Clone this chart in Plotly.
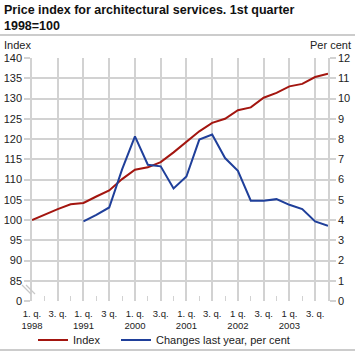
import plotly.graph_objects as go

quarters = ["1998 Q1", "1998 Q2", "1998 Q3", "1998 Q4",
            "1999 Q1", "1999 Q2", "1999 Q3", "1999 Q4",
            "2000 Q1", "2000 Q2", "2000 Q3", "2000 Q4",
            "2001 Q1", "2001 Q2", "2001 Q3", "2001 Q4",
            "2002 Q1", "2002 Q2", "2002 Q3", "2002 Q4",
            "2003 Q1", "2003 Q2", "2003 Q3", "2003 Q4"]
index_values = [100.0, 101.4, 102.7, 103.9,
                104.2, 105.8, 107.3, 110.1,
                112.4, 113.0, 114.3, 116.7,
                119.4, 121.9, 124.0, 125.0,
                127.1, 127.8, 130.2, 131.4,
                133.0, 133.6, 135.3, 136.1]
change_values = [None, None, None, None,
                 3.93, 4.25, 4.62, 6.5,
                 8.13, 6.73, 6.65, 5.56,
                 6.15, 7.97, 8.22, 7.06,
                 6.43, 4.95, 4.95, 5.03,
                 4.75, 4.54, 3.93, 3.71]
x_tick_labels = ["1. q.<br>1998", "3. q.", "1. q.<br>1991", "3 q.",
                 "1. q.<br>2000", "3.q.", "1. q.<br>2001", "3. q.",
                 "1 q.<br>2002", "3. q.", "1 q.<br>2003", "3. q."]
left_tick_vals = [80, 85, 90, 95, 100, 105, 110, 115, 120, 125, 130, 135, 140]
left_tick_text = ["0", "85", "90", "95", "100", "105", "110", "115", "120", "125", "130", "135", "140"]
right_tick_vals = list(range(0, 13))

xpos = list(range(len(quarters)))
FONT = "Liberation Sans, Arial, sans-serif"
GRID = "#d2d2d2"
RED = "#a3150f"
BLUE = "#1f3f9a"
TXT = "#222222"

fig = go.Figure()
fig.add_trace(go.Scatter(x=xpos, y=index_values, name="Index", mode="lines",
                         line=dict(color=RED, width=2), text=quarters, yaxis="y",
                         legend="legend"))
fig.add_trace(go.Scatter(x=xpos, y=change_values, name="Changes last year, per cent", mode="lines",
                         line=dict(color=BLUE, width=2), text=quarters, yaxis="y2",
                         legend="legend2"))

L, R, T, B = 32, 27, 58, 53
W, H = 355, 354
pw = W - L - R
ph = H - T - B


def px_x(p):
    return (p - L) / pw


def px_y(p):
    return (T + ph - p) / ph


legend_common = dict(orientation="h", xanchor="left", yanchor="middle",
                     xref="container", yref="container", y=1 - 340 / H,
                     font=dict(size=11, color=TXT), bgcolor="rgba(0,0,0,0)")

fig.update_layout(
    width=W, height=H,
    margin=dict(l=L, r=R, t=T, b=B, pad=0, autoexpand=False),
    paper_bgcolor="white", plot_bgcolor="white",
    font=dict(family=FONT, size=11, color=TXT),
    showlegend=True,
    legend=dict(x=33 / W, **legend_common),
    legend2=dict(x=116 / W, **legend_common),
    xaxis=dict(range=[0, 23], tickvals=xpos[::2], ticktext=x_tick_labels, tickangle=0,
               showgrid=True, gridcolor=GRID, gridwidth=1.5,
               ticks="inside", ticklen=5, tickcolor=GRID, tickwidth=1,
               minor=dict(dtick=1, tick0=0, ticks="inside", ticklen=5, tickcolor=GRID, showgrid=False),
               ticklabelstandoff=5,
               showline=False, zeroline=False, tickfont=dict(size=9.5)),
    yaxis=dict(range=[80, 140], tickvals=left_tick_vals, ticktext=left_tick_text,
               showgrid=True, gridcolor=GRID, gridwidth=1.5, zeroline=False,
               ticks="outside", ticklen=6, tickcolor=GRID, tickwidth=1.5,
               showline=True, linecolor=GRID, linewidth=1.5, tickfont=dict(size=11)),
    yaxis2=dict(range=[0, 12], tickvals=right_tick_vals, overlaying="y", side="right",
                showgrid=False, zeroline=False,
                ticks="outside", ticklen=6, tickcolor=GRID, tickwidth=1.5,
                showline=True, linecolor=GRID, linewidth=1.5, tickfont=dict(size=11)),
)

shapes = []
# rules under title and at bottom
shapes.append(dict(type="line", xref="paper", yref="paper", x0=px_x(0), x1=px_x(W),
                   y0=px_y(35), y1=px_y(35), line=dict(color="#9a9a9a", width=1.2)))
shapes.append(dict(type="line", xref="paper", yref="paper", x0=px_x(0), x1=px_x(W),
                   y0=px_y(350), y1=px_y(350), line=dict(color="#9a9a9a", width=1.2)))
# axis break marks
for off in (0, 4):
    shapes.append(dict(type="line", xref="paper", yref="paper",
                       x0=px_x(22 + off), x1=px_x(31 + off), y0=px_y(285), y1=px_y(294),
                       line=dict(color="#c8c8c8", width=1.2)))
fig.update_layout(shapes=shapes)

TITLE_FONT = dict(family=FONT, size=12.5, color="#111111")
fig.add_annotation(text="<b>Price index for architectural services. 1st quarter</b>",
                   xref="paper", yref="paper", x=px_x(2), y=px_y(9.5),
                   xanchor="left", yanchor="middle", showarrow=False, font=TITLE_FONT)
fig.add_annotation(text="<b>1998=100</b>",
                   xref="paper", yref="paper", x=px_x(2), y=px_y(25.5),
                   xanchor="left", yanchor="middle", showarrow=False, font=TITLE_FONT)

fig.add_annotation(text="Index", xref="paper", yref="paper", x=px_x(2), y=px_y(45),
                   xanchor="left", yanchor="middle", showarrow=False, font=dict(size=11))
fig.add_annotation(text="Per cent", xref="paper", yref="paper", x=px_x(353), y=px_y(45),
                   xanchor="right", yanchor="middle", showarrow=False, font=dict(size=11))

fig.write_html("out.html")
